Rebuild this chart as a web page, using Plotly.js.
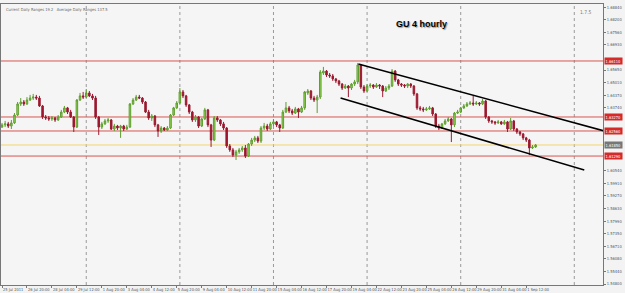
<!DOCTYPE html>
<html><head><meta charset="utf-8">
<script src="https://cdn.plot.ly/plotly-3.0.1.min.js"></script>
<style>html,body{margin:0;padding:0;background:#f3f3f3;}#chart{width:625px;height:293px;}</style>
</head><body><div id="chart"></div>
<script>
// GBPUSD 4-hour bars, 25 Jul 2011 12:00 -> 1 Sep 2011 (bar index = position)
const openP = [
1.6276,1.6287,1.6292,1.6281,1.6297,1.6337,1.6393,1.6403,1.6393,1.6413,
1.6423,1.6428,1.6423,1.6383,1.6327,1.6322,1.6317,1.6322,1.6312,1.6327,
1.6352,1.6373,1.6352,1.6327,1.6276,1.6413,1.6434,1.6428,1.6449,1.6434,
1.6423,1.6327,1.6276,1.6292,1.6307,1.6312,1.6266,1.6281,1.6271,1.6281,
1.6266,1.6276,1.6393,1.6413,1.6428,1.6423,1.6403,1.6352,1.6322,1.6332,
1.6287,1.6256,1.6271,1.6261,1.6271,1.6337,1.6373,1.6398,1.6454,1.6434,
1.6388,1.6352,1.6312,1.6327,1.6281,1.6317,1.6363,1.6287,1.6210,1.6322,
1.6312,1.6292,1.6271,1.6180,1.6160,1.6134,1.6150,1.6160,1.6170,1.6129,
1.6190,1.6210,1.6221,1.6205,1.6271,1.6281,1.6266,1.6292,1.6302,1.6287,
1.6271,1.6352,1.6373,1.6358,1.6347,1.6368,1.6352,1.6373,1.6449,1.6459,
1.6423,1.6413,1.6428,1.6550,1.6560,1.6540,1.6535,1.6520,1.6510,1.6494,
1.6474,1.6484,1.6474,1.6494,1.6505,1.6591,1.6479,1.6459,1.6484,1.6489,
1.6479,1.6489,1.6484,1.6459,1.6474,1.6484,1.6560,1.6515,1.6494,1.6489,
1.6484,1.6494,1.6484,1.6444,1.6373,1.6368,1.6363,1.6368,1.6373,1.6342,
1.6281,1.6271,1.6292,1.6307,1.6317,1.6287,1.6347,1.6352,1.6373,1.6383,
1.6393,1.6398,1.6393,1.6398,1.6393,1.6408,1.6327,1.6307,1.6302,1.6297,
1.6302,1.6292,1.6302,1.6266,1.6307,1.6266,1.6251,1.6241,1.6221,1.6210,
1.6170,1.6175];
const highP = [
1.6297,1.6307,1.6302,1.6312,1.6347,1.6403,1.6423,1.6413,1.6428,1.6439,
1.6444,1.6439,1.6434,1.6388,1.6337,1.6332,1.6332,1.6327,1.6337,1.6363,
1.6383,1.6378,1.6363,1.6332,1.6418,1.6449,1.6454,1.6469,1.6459,1.6444,
1.6434,1.6332,1.6302,1.6317,1.6322,1.6317,1.6292,1.6287,1.6287,1.6287,
1.6287,1.6398,1.6423,1.6439,1.6439,1.6428,1.6408,1.6363,1.6342,1.6337,
1.6292,1.6281,1.6276,1.6281,1.6342,1.6378,1.6408,1.6474,1.6464,1.6439,
1.6393,1.6358,1.6337,1.6332,1.6322,1.6373,1.6368,1.6292,1.6332,1.6332,
1.6317,1.6302,1.6276,1.6190,1.6170,1.6160,1.6170,1.6180,1.6185,1.6195,
1.6221,1.6231,1.6231,1.6281,1.6297,1.6292,1.6302,1.6317,1.6307,1.6292,
1.6363,1.6403,1.6383,1.6368,1.6378,1.6373,1.6383,1.6459,1.6469,1.6464,
1.6434,1.6439,1.6565,1.6581,1.6565,1.6550,1.6545,1.6525,1.6515,1.6499,
1.6494,1.6489,1.6499,1.6515,1.6601,1.6596,1.6489,1.6494,1.6499,1.6494,
1.6499,1.6494,1.6489,1.6484,1.6494,1.6570,1.6565,1.6520,1.6499,1.6494,
1.6499,1.6499,1.6489,1.6449,1.6383,1.6378,1.6378,1.6383,1.6378,1.6347,
1.6292,1.6297,1.6317,1.6327,1.6322,1.6352,1.6363,1.6378,1.6393,1.6403,
1.6408,1.6434,1.6408,1.6403,1.6418,1.6413,1.6332,1.6312,1.6307,1.6312,
1.6307,1.6312,1.6307,1.6322,1.6312,1.6271,1.6256,1.6246,1.6226,1.6216,
1.6185,1.6190];
const lowP = [
1.6271,1.6276,1.6271,1.6266,1.6292,1.6332,1.6383,1.6383,1.6388,1.6408,
1.6413,1.6413,1.6378,1.6317,1.6312,1.6307,1.6307,1.6302,1.6307,1.6322,
1.6347,1.6342,1.6322,1.6251,1.6271,1.6408,1.6418,1.6423,1.6428,1.6413,
1.6317,1.6236,1.6266,1.6287,1.6297,1.6261,1.6256,1.6261,1.6221,1.6256,
1.6261,1.6271,1.6388,1.6408,1.6418,1.6393,1.6347,1.6312,1.6307,1.6276,
1.6226,1.6246,1.6256,1.6256,1.6266,1.6332,1.6368,1.6393,1.6423,1.6378,
1.6342,1.6302,1.6302,1.6271,1.6276,1.6312,1.6276,1.6175,1.6205,1.6302,
1.6281,1.6261,1.6170,1.6150,1.6124,1.6109,1.6140,1.6150,1.6119,1.6124,
1.6180,1.6200,1.6195,1.6195,1.6261,1.6256,1.6261,1.6281,1.6276,1.6251,
1.6266,1.6347,1.6347,1.6337,1.6342,1.6322,1.6347,1.6363,1.6439,1.6413,
1.6403,1.6347,1.6418,1.6540,1.6530,1.6525,1.6510,1.6499,1.6484,1.6464,
1.6469,1.6428,1.6464,1.6484,1.6494,1.6469,1.6449,1.6454,1.6474,1.6469,
1.6474,1.6469,1.6428,1.6454,1.6464,1.6479,1.6505,1.6484,1.6479,1.6474,
1.6474,1.6474,1.6434,1.6363,1.6358,1.6352,1.6358,1.6363,1.6332,1.6271,
1.6261,1.6266,1.6287,1.6302,1.6200,1.6276,1.6342,1.6347,1.6368,1.6378,
1.6388,1.6383,1.6388,1.6383,1.6388,1.6317,1.6297,1.6292,1.6287,1.6292,
1.6287,1.6287,1.6251,1.6261,1.6256,1.6241,1.6231,1.6210,1.6200,1.6134,
1.6165,1.6170];
const closeP = [
1.6287,1.6292,1.6281,1.6297,1.6337,1.6393,1.6403,1.6393,1.6413,1.6423,
1.6428,1.6423,1.6383,1.6327,1.6322,1.6317,1.6322,1.6312,1.6327,1.6352,
1.6373,1.6352,1.6327,1.6276,1.6413,1.6434,1.6428,1.6449,1.6434,1.6423,
1.6327,1.6276,1.6292,1.6307,1.6312,1.6266,1.6281,1.6271,1.6281,1.6266,
1.6276,1.6393,1.6413,1.6428,1.6423,1.6403,1.6352,1.6322,1.6332,1.6287,
1.6256,1.6271,1.6261,1.6271,1.6337,1.6373,1.6398,1.6454,1.6434,1.6388,
1.6352,1.6312,1.6327,1.6281,1.6317,1.6363,1.6287,1.6210,1.6322,1.6312,
1.6292,1.6271,1.6180,1.6160,1.6134,1.6150,1.6160,1.6170,1.6129,1.6190,
1.6210,1.6221,1.6205,1.6271,1.6281,1.6266,1.6292,1.6302,1.6287,1.6271,
1.6352,1.6373,1.6358,1.6347,1.6368,1.6352,1.6373,1.6454,1.6459,1.6423,
1.6413,1.6428,1.6555,1.6560,1.6540,1.6535,1.6520,1.6510,1.6494,1.6474,
1.6484,1.6474,1.6494,1.6505,1.6591,1.6479,1.6459,1.6484,1.6489,1.6479,
1.6489,1.6484,1.6459,1.6474,1.6484,1.6560,1.6515,1.6494,1.6489,1.6484,
1.6494,1.6484,1.6444,1.6373,1.6368,1.6363,1.6368,1.6373,1.6342,1.6281,
1.6271,1.6292,1.6307,1.6317,1.6287,1.6347,1.6352,1.6373,1.6383,1.6393,
1.6398,1.6393,1.6398,1.6393,1.6408,1.6327,1.6307,1.6302,1.6297,1.6302,
1.6292,1.6302,1.6266,1.6307,1.6266,1.6251,1.6241,1.6221,1.6210,1.6170,
1.6175,1.6185];

// x-axis labels every 8 bars
const xTickBars = [0,8,16,24,32,40,48,56,64,72,80,88,96,104,112,120,128,136,144,152,160,168];
const xTickText = ["25 Jul 2011","26 Jul 20:00","28 Jul 04:00","29 Jul 12:00","1 Aug 20:00","3 Aug 04:00",
  "4 Aug 12:00","5 Aug 20:00","9 Aug 04:00","10 Aug 12:00","11 Aug 20:00","15 Aug 04:00","16 Aug 12:00",
  "17 Aug 20:00","19 Aug 04:00","22 Aug 12:00","23 Aug 20:00","25 Aug 04:00","26 Aug 12:00","29 Aug 20:00",
  "31 Aug 04:00","1 Sep 12:00"];
// price scale labels
const yTickVals = [1.68840,1.68200,1.67560,1.66930,1.66290,1.65650,1.65010,1.64370,1.63740,1.63100,1.62460,
  1.61820,1.61180,1.60540,1.59910,1.59270,1.58630,1.57990,1.57350,1.56710,1.56080,1.55440,1.54800];
// horizontal levels
const redLevels = [1.6611, 1.6327, 1.6256, 1.6129];
const bidLevel = 1.6185;
// weekly separators (bar index)
const separatorBars = [27, 57, 87, 117, 147, 183.4];
// channel lines (bar index, price)
const upperX = [114.2, 193], upperY = [1.6596, 1.6256];
const lowerX = [108.5, 186.6], lowerY = [1.6423, 1.6058];

const xIdx = closeP.map((_, i) => i);
const FONT = "DejaVu Sans Condensed, Liberation Sans Narrow, Liberation Sans, Arial, sans-serif";
const YR = [1.5475, 1.6900];

// price labels hidden under the level boxes (as the terminal does)
const boxLevels = redLevels.concat([bidLevel]);
const pxPerPrice = 281 / (YR[1] - YR[0]);
const shownTicks = yTickVals.filter(v => boxLevels.every(l => Math.abs(v - l) * pxPerPrice > 4.5));

const traces = [
  {type:'candlestick', x:xIdx, open:openP, high:highP, low:lowP, close:closeP,
   increasing:{line:{color:'#5e9e2e', width:1}, fillcolor:'#94d957'},
   decreasing:{line:{color:'#9b1b30', width:1}, fillcolor:'#a3122d'},
   whiskerwidth:0, hoverinfo:'skip', showlegend:false},
  {type:'scatter', mode:'lines', x:upperX, y:upperY, line:{color:'#000', width:1.5}, showlegend:false, hoverinfo:'skip'},
  {type:'scatter', mode:'lines', x:lowerX, y:lowerY, line:{color:'#000', width:1.5}, showlegend:false, hoverinfo:'skip'}
];

const shapes = [];
separatorBars.forEach(b => shapes.push({type:'line', xref:'x', yref:'paper', x0:b, x1:b, y0:0, y1:1,
  line:{color:'#9a9a9a', width:1, dash:'dot'}, layer:'below'}));
redLevels.forEach(v => shapes.push({type:'line', xref:'paper', yref:'y', x0:0, x1:1, y0:v, y1:v,
  line:{color:'#d9544f', width:1}, layer:'below'}));
shapes.push({type:'line', xref:'paper', yref:'y', x0:0, x1:1, y0:bidLevel, y1:bidLevel,
  line:{color:'#f1d66a', width:1}, layer:'below'});

const annotations = [];
redLevels.forEach(v => annotations.push({xref:'paper', yref:'y', x:1, y:v, xanchor:'left', yanchor:'middle',
  xshift:1, text:v.toFixed(5), showarrow:false, bgcolor:'#d42a2a', borderpad:0.5,
  font:{family:FONT, size:4, color:'#ffffff'}}));
annotations.push({xref:'paper', yref:'y', x:1, y:bidLevel, xanchor:'left', yanchor:'middle', xshift:1,
  text:bidLevel.toFixed(5), showarrow:false, bgcolor:'#777777', borderpad:0.5,
  font:{family:FONT, size:4, color:'#ffffff'}});
annotations.push({xref:'paper', yref:'paper', x:0, y:1, xanchor:'left', yanchor:'top', xshift:3, yshift:-1,
  text:'Current Daily Ranges 19.2   Average Daily Ranges 137.5', showarrow:false,
  font:{family:FONT, size:4, color:'#666'}});
annotations.push({xref:'paper', yref:'paper', x:0.652, y:0.93, xanchor:'left', yanchor:'middle',
  text:'<b>GU 4 hourly</b>', showarrow:false,
  font:{family:'Liberation Sans, Arial, sans-serif', size:9, color:'#000', shadow:'1px 1px 1px #999'}});
annotations.push({xref:'paper', yref:'paper', x:0.985, y:0.97, xanchor:'right', yanchor:'middle',
  text:'1.7.5', showarrow:false, font:{family:FONT, size:5, color:'#777'}});

const layout = {
  width:625, height:293,
  margin:{l:1, r:22, t:4, b:8, pad:0},
  paper_bgcolor:'#f3f3f3', plot_bgcolor:'#f5f5f5',
  showlegend:false,
  xaxis:{range:[-0.32, 192.6], showgrid:false, zeroline:false, rangeslider:{visible:false},
    tickmode:'array', tickvals:xTickBars, ticktext:xTickText, tickangle:0,
    ticks:'outside', ticklen:2, tickcolor:'#777', ticklabelposition:'outside right',
    tickfont:{family:FONT, size:4, color:'#555'}, showline:true, linecolor:'#777', linewidth:1, mirror:true},
  yaxis:{range:YR, side:'right', showgrid:false, zeroline:false,
    tickmode:'array', tickvals:shownTicks, ticktext:shownTicks.map(v=>v.toFixed(5)),
    ticks:'outside', ticklen:2, tickcolor:'#777',
    tickfont:{family:FONT, size:4, color:'#555'}, showline:true, linecolor:'#777', linewidth:1, mirror:true},
  shapes:shapes, annotations:annotations
};

Plotly.newPlot('chart', traces, layout, {staticPlot:true, displayModeBar:false});
</script></body></html>
